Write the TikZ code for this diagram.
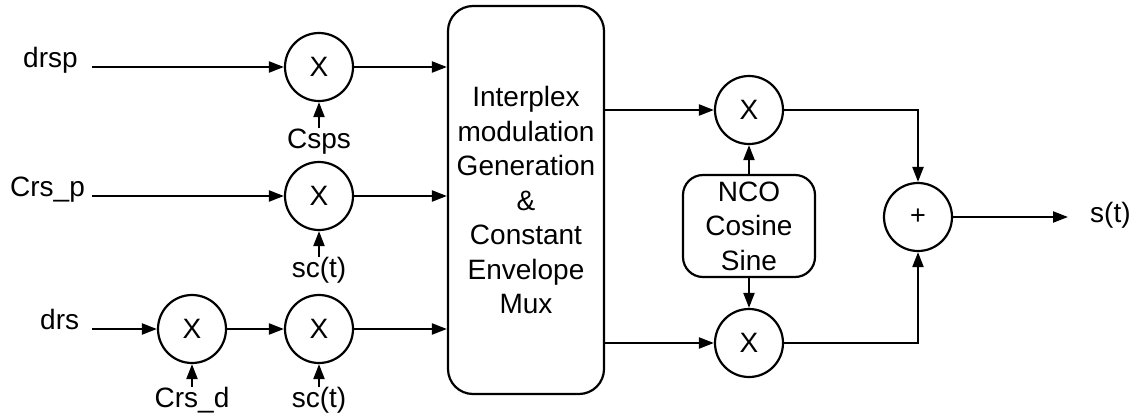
\documentclass[tikz,border=0pt]{standalone}
\usepackage{fontspec}
\setmainfont{Liberation Sans}
\usetikzlibrary{arrows.meta,calc}
\begin{document}
\begin{tikzpicture}[x=1pt,y=-1pt,
  font=\fontsize{28}{34.5}\selectfont,
  mix/.style={draw,circle,line width=2.2pt,minimum size=68pt,inner sep=0pt},
  rbox/.style={draw,rounded corners=25pt,line width=2.2pt,inner sep=0pt,align=center},
  lbl/.style={inner sep=0pt},
  arr/.style={line width=2.2pt,-{Triangle[length=15pt,width=11pt]}}]
\useasboundingbox (0,0) rectangle (1138,418);
% multipliers
\node[mix] (m1) at (319,67) {X};
\node[mix] (m2) at (319,196) {X};
\node[mix] (m3a) at (192,329) {X};
\node[mix] (m3b) at (319,329) {X};
\node[rbox,minimum width=156pt,minimum height=388pt] (ip) at (526,200)
  {Interplex\\modulation\\Generation\\\&\\Constant\\Envelope\\Mux};
\node[mix] (u) at (749,110) {X};
\node[mix] (l) at (749,343) {X};
\node[rbox,rounded corners=20pt,minimum width=132pt,minimum height=102pt] (nco) at (749,226)
  {NCO\\Cosine\\Sine};
\node[mix] (sum) at (918,217) {\fontsize{27}{27}\selectfont +};
% input labels
\node[lbl,anchor=base west] (t1) at (23,67) {drsp};
\node[lbl,anchor=base west] (t2) at (10,196) {Crs\_p};
\node[lbl,anchor=base west] (t3) at (40,329) {drs};
\coordinate (i1) at (92,67);
\coordinate (i2) at (92,196);
\coordinate (i3) at (92,329);
% lower labels
\node[lbl,anchor=base] (c1) at (319,148) {Csps};
\node[lbl,anchor=base] (c2) at (319,277) {sc(t)};
\node[lbl,anchor=base] (c3) at (192,407) {Crs\_d};
\node[lbl,anchor=base] (c4) at (319,407) {sc(t)};
% output
\coordinate (o) at (1068,217);
\node[lbl,anchor=base west] (st) at (1090,222) {s(t)};
% connections
\draw[arr] (i1) -- (m1);
\draw[arr] (i2) -- (m2);
\draw[arr] (i3) -- (m3a);
\draw[arr] (m3a) -- (m3b);
\draw[arr] (c1.north) -- (m1.south);
\draw[arr] (c2.north) -- (m2.south);
\draw[arr] (c3.north) -- (m3a.south);
\draw[arr] (c4.north) -- (m3b.south);
\draw[arr] (m1.east) -- (m1.east -| ip.west);
\draw[arr] (m2.east) -- (m2.east -| ip.west);
\draw[arr] (m3b.east) -- (m3b.east -| ip.west);
\draw[arr] (ip.east |- u) -- (u.west);
\draw[arr] (ip.east |- l) -- (l.west);
\draw[arr] (nco.north) -- (u.south);
\draw[arr] (nco.south) -- (l.north);
\draw[arr] (u.east) -| (sum.north);
\draw[arr] (l.east) -| (sum.south);
\draw[arr] (sum.east) -- (o);
\end{tikzpicture}
\end{document}
